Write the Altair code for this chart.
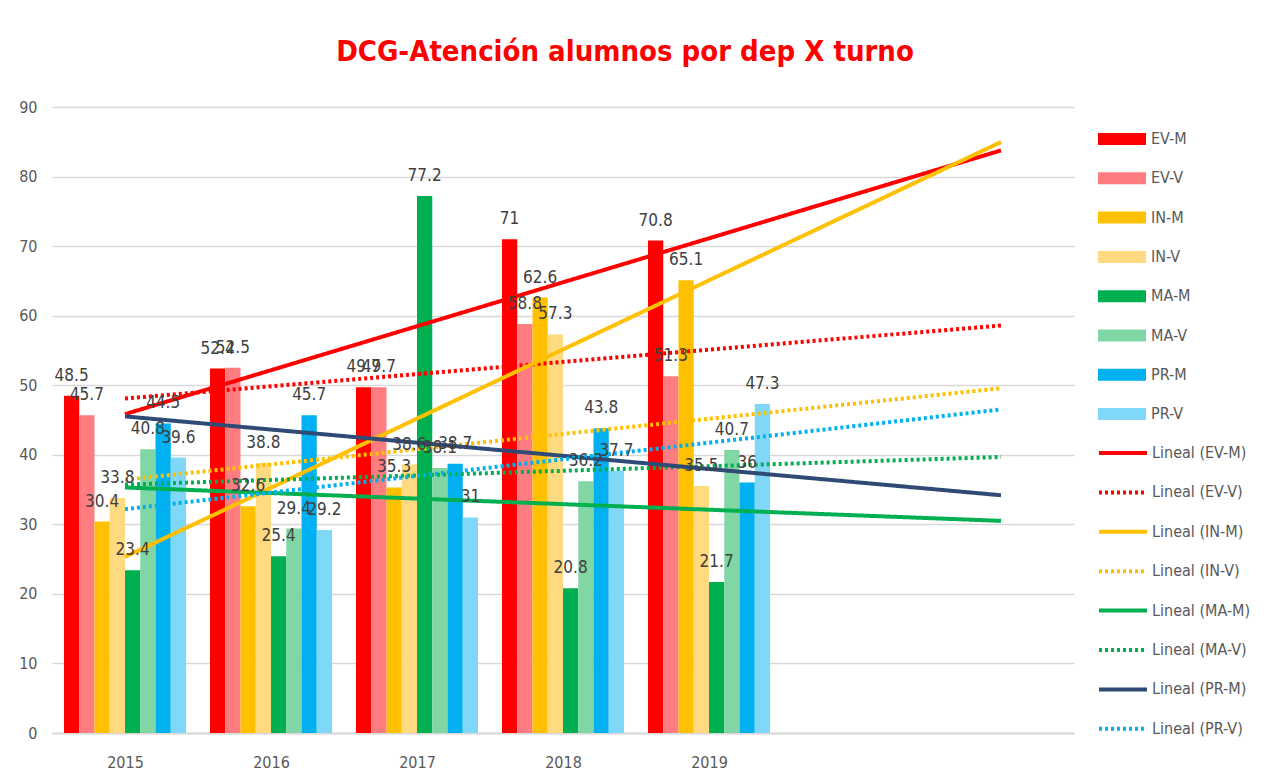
import json
import altair as alt
import pandas as pd

# ---------------- data ----------------
years = ["2015", "2016", "2017", "2018", "2019"]
series = ["EV-M", "EV-V", "IN-M", "IN-V", "MA-M", "MA-V", "PR-M", "PR-V"]
ev_m = [48.5, 52.4, 49.7, 71, 70.8]
ev_v = [45.7, 52.5, 49.7, 58.8, 51.3]
in_m = [30.4, 32.6, 35.3, 62.6, 65.1]
in_v = [33.8, 38.8, 38.6, 57.3, 35.5]
ma_m = [23.4, 25.4, 77.2, 20.8, 21.7]
ma_v = [40.8, 29.4, 38.1, 36.2, 40.7]
pr_m = [44.5, 45.7, 38.7, 43.8, 36]
pr_v = [39.6, 29.2, 31, 37.7, 47.3]
values = [ev_m, ev_v, in_m, in_v, ma_m, ma_v, pr_m, pr_v]
trend_names = ["Lineal (" + s + ")" for s in series]

# ---------------- styles ----------------
bar_colors = ["#FF0000", "#FF7C80", "#FFC000", "#FFDA80",
              "#00B050", "#80D6A4", "#00B0F0", "#80D8F8"]
trend_colors = ["#FF0000", "#FF0000", "#FFC000", "#FFC000",
                "#00B050", "#00B050", "#2F4A74", "#00B0F0"]
trend_dash = [[1, 0], [3, 3], [1, 0], [3, 3], [1, 0], [3, 3], [1, 0], [3, 3]]
FONT = "Liberation Sans Narrow, DejaVu Sans Condensed, sans-serif"
BW = 0.1045  # bar width in category units

rows = []
for k, (s, vals) in enumerate(zip(series, values)):
    for i, (y, v) in enumerate(zip(years, vals)):
        rows.append({"xi": i + 1, "year": y, "serie": s, "k": k, "value": v})
df = pd.DataFrame(rows)

xscale = alt.Scale(domain=[0.5, 7.5], nice=False, zero=False)
yscale = alt.Scale(domain=[0, 90], nice=False)
xaxis = alt.Axis(values=[1, 2, 3, 4, 5],
                 labelExpr=json.dumps(years) + "[datum.value - 1]",
                 grid=False, ticks=False, domain=True, domainColor="#D9D9D9",
                 domainWidth=2, labelPadding=21, title=None,
                 labelFont=FONT, labelFontSize=16, labelColor="#595959")
yaxis = alt.Axis(values=list(range(0, 100, 10)), grid=True, gridColor="#D9D9D9",
                 gridWidth=1.4, domain=False, ticks=False, labelPadding=15,
                 title=None, labelFont=FONT, labelFontSize=16, labelColor="#595959")

base = alt.Chart(df)

bars = base.transform_calculate(
    x0=f"datum.xi + (datum.k - 4) * {BW}",
    x1=f"datum.xi + (datum.k - 3) * {BW}",
).mark_bar(strokeWidth=0).encode(
    x=alt.X("x0:Q", scale=xscale, axis=xaxis),
    x2="x1:Q",
    y=alt.Y("value:Q", scale=yscale, axis=yaxis),
    y2=alt.datum(0),
    color=alt.Color("serie:N", scale=alt.Scale(domain=series, range=bar_colors),
                    legend=alt.Legend(title=None, orient="none", legendX=1046, legendY=8,
                                      symbolType="M-1,-0.25H1V0.25H-1Z", symbolSize=2304,
                                      symbolStrokeWidth=0, padding=0, rowPadding=7.3,
                                      labelOffset=5, labelFont=FONT, labelFontSize=16,
                                      labelColor="#595959")),
)

line_legend = alt.Legend(title=None, orient="none", legendX=1045, legendY=320,
                         symbolType="stroke", symbolSize=2304, symbolStrokeWidth=4,
                         padding=0, rowPadding=5.4, labelOffset=3, labelFont=FONT,
                         labelFontSize=16, labelColor="#595959")

trend = base.transform_regression(
    "xi", "value", groupby=["serie"], extent=[1, 7], method="linear"
).transform_calculate(
    lname="'Lineal (' + datum.serie + ')'"
).mark_line(strokeWidth=4).encode(
    x=alt.X("xi:Q", scale=xscale, axis=xaxis),
    y=alt.Y("value:Q", scale=yscale, axis=yaxis),
    color=alt.Color("lname:N", scale=alt.Scale(domain=trend_names, range=trend_colors),
                    legend=line_legend),
    strokeDash=alt.StrokeDash("lname:N", scale=alt.Scale(domain=trend_names, range=trend_dash),
                              legend=line_legend),
    detail="lname:N",
)

labels = base.transform_calculate(
    xc=f"datum.xi + (datum.k - 3.5) * {BW}",
).mark_text(font=FONT, fontSize=17, color="#404040", baseline="alphabetic", dy=-15).encode(
    x=alt.X("xc:Q", scale=xscale, axis=xaxis),
    y=alt.Y("value:Q", scale=yscale, axis=yaxis),
    text=alt.Text("value:N"),
)

chart = alt.layer(bars, trend, labels).resolve_scale(
    color="independent", strokeDash="independent"
).resolve_legend(
    color="independent", strokeDash="independent"
).properties(
    width=1022, height=626,
    autosize=alt.AutoSizeParams(type="none"),
    padding={"left": 44, "top": 99, "right": 187, "bottom": 41},
    title=alt.TitleParams("DCG-Atención alumnos por dep  X turno", font=FONT, fontSize=29,
                          fontWeight="bold", color="#FF0000", anchor="middle", dx=62,
                          offset=32),
).configure(background="white").configure_view(stroke=None)

chart.save("out.html", embed_options={"renderer": "svg", "actions": False})
